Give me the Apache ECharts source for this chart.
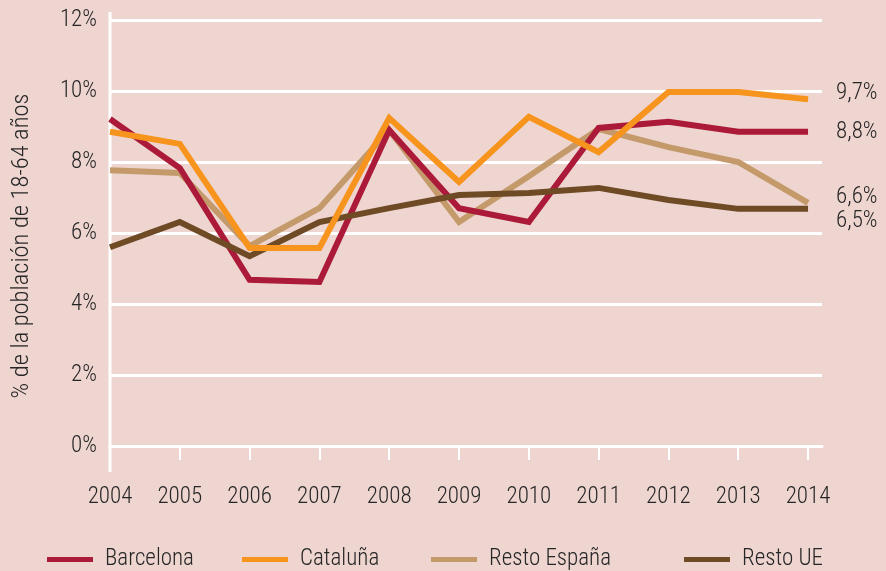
<!DOCTYPE html>
<html><head><meta charset="utf-8">
<script src="https://cdn.jsdelivr.net/npm/echarts@6/dist/echarts.min.js"></script>
<style>html,body{margin:0;padding:0;background:#EED5D0;} #c{width:886px;height:571px;}</style>
</head><body><div id="c"></div>
<script>
const years = [2004, 2005, 2006, 2007, 2008, 2009, 2010, 2011, 2012, 2013, 2014];
const barcelona   = [9.21, 7.83, 4.68, 4.62, 8.90, 6.70, 6.31, 8.96, 9.13, 8.85, 8.85];
const cataluna    = [8.85, 8.51, 5.58, 5.58, 9.24, 7.44, 9.27, 8.28, 9.97, 9.97, 9.77];
const restoEspana = [7.77, 7.69, 5.63, 6.70, 8.90, 6.31, 7.60, 8.93, 8.42, 8.00, 6.85];
const restoUE     = [5.60, 6.31, 5.35, 6.31, 6.70, 7.07, 7.13, 7.27, 6.93, 6.68, 6.68];
const seriesNames = ['Barcelona', 'Cataluña', 'Resto España', 'Resto UE'];
const endLabels = ['8,8%', '9,7%', '6,6%', '6,5%'];
const yAxisName = '% de la población de 18-64 años';

const FONT = "'Roboto Condensed', 'Open Sans', sans-serif";
const FS = 23;
const FW = 300;
const TXT = '#262626';
const colors = ['#AC1A39', '#F7941D', '#C49A6A', '#6E4A25'];
const seriesData = [barcelona, cataluna, restoEspana, restoUE];
const labelOffsets = [0, -6, -6, 12];
const zs = [3, 5, 2, 4];
const legendLefts = [42, 237, 426, 679];

const chart = echarts.init(document.getElementById('c'), null, {renderer: 'canvas'});
const option = {
  backgroundColor: '#EED5D0',
  animation: false,
  textStyle: {fontFamily: FONT},
  grid: {left: 110, right: 64, top: 20, bottom: 125, containLabel: false},
  legend: seriesNames.map((n, i) => ({
    data: [n], left: legendLefts[i], top: 543, icon: 'rect', itemWidth: 46, itemHeight: 5,
    textStyle: {fontFamily: FONT, fontSize: FS, fontWeight: FW, color: TXT, padding: [0, 0, 0, 7]}
  })),
  xAxis: {
    type: 'value', min: 2004, max: 2014.2, interval: 1,
    axisLine: {show: true, onZero: false, lineStyle: {color: '#fff', width: 3}},
    axisTick: {show: true, length: 14, customValues: years.slice(1), lineStyle: {color: '#fff', width: 2}},
    axisLabel: {customValues: years, margin: 40, fontFamily: FONT, fontSize: FS, fontWeight: FW, color: TXT,
      formatter: v => String(v)},
    splitLine: {show: false}
  },
  yAxis: {
    type: 'value', min: 0, max: 12, interval: 2,
    name: yAxisName, nameLocation: 'middle', nameGap: 76,
    nameTextStyle: {fontFamily: FONT, fontSize: 24.5, fontWeight: FW, color: TXT, padding: [0, 26, 0, 0]},
    axisLine: {show: false},
    axisTick: {show: false},
    axisLabel: {margin: 13, fontFamily: FONT, fontSize: FS, fontWeight: FW, color: TXT, formatter: v => v + '%'},
    splitLine: {show: true, lineStyle: {color: '#fff', width: 3}}
  },
  series: seriesNames.map((n, i) => ({
    name: n, type: 'line', z: zs[i],
    data: years.map((y, k) => [y, seriesData[i][k]]),
    showSymbol: false, symbol: 'none',
    lineStyle: {color: colors[i], width: 6, join: 'miter', cap: 'butt'},
    itemStyle: {color: colors[i]},
    endLabel: {show: true, formatter: endLabels[i], distance: 28, offset: [0, labelOffsets[i]],
      fontFamily: FONT, fontSize: FS, fontWeight: FW, color: TXT}
  }))
};
chart.setOption(option);
const p0 = chart.convertToPixel({gridIndex: 0}, [2004, 0]);
const p12 = chart.convertToPixel({gridIndex: 0}, [2004, 12]);
chart.setOption({graphic: [{type: 'line', z: 1,
  shape: {x1: p0[0], y1: p12[1] - 8, x2: p0[0], y2: p0[1] + 26},
  style: {stroke: '#fff', lineWidth: 3}}]});
</script></body></html>
